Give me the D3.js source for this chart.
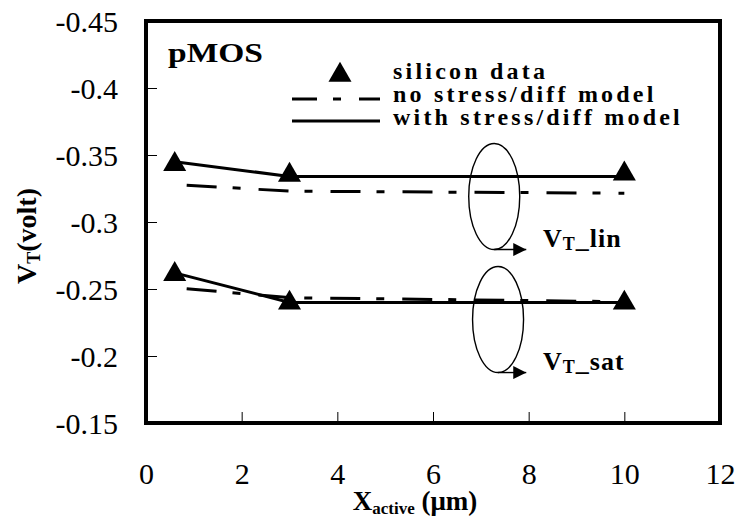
<!DOCTYPE html>
<html>
<head>
<meta charset="utf-8">
<script src="https://cdn.jsdelivr.net/npm/d3@7"></script>
<style>
  body { margin: 0; background: #fff; }
  text { font-family: "Liberation Serif", "Times New Roman", serif; fill: #000; }
</style>
</head>
<body>
<svg id="chart" width="738" height="517"></svg>
<script>
// data
const xActive = [0.6, 3, 10];
const siliconLin = [-0.343, -0.335, -0.336];
const siliconSat = [-0.261, -0.2396, -0.2396];
const noStressLin = [-0.328, -0.323, -0.3215];
const noStressSat = [-0.251, -0.2435, -0.2405];
const withStressLin = [-0.345, -0.334, -0.334];
const withStressSat = [-0.262, -0.240, -0.240];

const xTicks = [0, 2, 4, 6, 8, 10, 12];
const yTicks = [-0.45, -0.4, -0.35, -0.3, -0.25, -0.2, -0.15];

// annotation ellipses (centre in data units) and their labels
const groupNames = ["lin", "sat"];
const ellipseX = [7.28, 7.36];
const ellipseY = [-0.319, -0.2272];
const arrowEndX = [7.95, 7.95];
const labelX = [8.3, 8.3];
const labelY = [-0.2813, -0.1896];

const svg = d3.select("#chart");
const margin = { top: 21, right: 18, bottom: 94, left: 146 };
const width = 738 - margin.left - margin.right;
const height = 517 - margin.top - margin.bottom;

const g = svg.append("g").attr("transform", "translate(" + margin.left + "," + margin.top + ")");

const x = d3.scaleLinear().domain([0, 12]).range([0, width]);
const y = d3.scaleLinear().domain([-0.45, -0.15]).range([0, height]);

// axes
const xAxis = g.append("g")
    .attr("transform", "translate(0," + height + ")")
    .call(d3.axisBottom(x).tickValues(xTicks).tickSize(-11).tickPadding(40).tickFormat(d => String(d)));

const yAxis = g.append("g")
    .call(d3.axisLeft(y).tickValues(yTicks).tickSize(-11).tickPadding(28).tickFormat(d => String(d)));

[xAxis, yAxis].forEach(a => {
    a.select(".domain").remove();
    a.selectAll(".tick line").attr("stroke", "#000").attr("stroke-width", 1);
    a.selectAll(".tick text")
        .style("font-family", "'Liberation Serif', 'Times New Roman', serif")
        .style("font-size", "30px")
        .attr("fill", "#000");
});
yAxis.selectAll(".tick text").attr("dy", "0.34em");

// frame
g.append("rect")
    .attr("x", 0).attr("y", 0)
    .attr("width", width).attr("height", height)
    .attr("fill", "none").attr("stroke", "#000").attr("stroke-width", 4);

const line = d3.line().x(d => x(d[0])).y(d => y(d[1]));
const pairs = vals => xActive.map((v, i) => [v, vals[i]]);

const dashPattern = "30,16,8,18";

[noStressLin, noStressSat].forEach(s => {
    g.append("path")
        .attr("d", line(pairs(s)))
        .attr("fill", "none").attr("stroke", "#000").attr("stroke-width", 3)
        .attr("stroke-dasharray", dashPattern)
        .attr("stroke-dashoffset", 60);
});

[withStressLin, withStressSat].forEach(s => {
    g.append("path")
        .attr("d", line(pairs(s)))
        .attr("fill", "none").attr("stroke", "#000").attr("stroke-width", 3);
});

const tri = d3.symbol(d3.symbolTriangle, 230);
[siliconLin, siliconSat].forEach(s => {
    g.selectAll(null)
        .data(pairs(s))
        .enter()
        .append("path")
        .attr("d", tri)
        .attr("transform", d => "translate(" + x(d[0]) + "," + y(d[1]) + ")")
        .attr("fill", "#000");
});

// arrow marker
svg.append("defs").append("marker")
    .attr("id", "arrow")
    .attr("viewBox", "0 0 12 12")
    .attr("refX", 12).attr("refY", 6)
    .attr("markerWidth", 13).attr("markerHeight", 13)
    .attr("markerUnits", "userSpaceOnUse")
    .attr("orient", "auto")
    .append("path")
    .attr("d", "M0,0 L12,6 L0,12 Z")
    .attr("fill", "#000");

groupNames.forEach((name, i) => {
    const cx = x(ellipseX[i]);
    const cy = y(ellipseY[i]);
    const ry = 53;
    g.append("ellipse")
        .attr("cx", cx).attr("cy", cy)
        .attr("rx", 25.5).attr("ry", ry)
        .attr("fill", "none").attr("stroke", "#000").attr("stroke-width", 1.4);
    g.append("line")
        .attr("x1", cx).attr("y1", cy + ry)
        .attr("x2", x(arrowEndX[i])).attr("y2", cy + ry)
        .attr("stroke", "#000").attr("stroke-width", 1.4)
        .attr("marker-end", "url(#arrow)");
    const t = g.append("text")
        .attr("x", x(labelX[i])).attr("y", y(labelY[i]))
        .style("font-size", "26px").style("font-weight", "bold")
        .style("letter-spacing", "1px");
    t.append("tspan").text("V");
    t.append("tspan").attr("dy", 3).style("font-size", "18px").text("T");
    t.append("tspan").attr("dy", -3).text("_" + name);
});

// pMOS tag
svg.append("text")
    .attr("x", 168).attr("y", 62)
    .attr("textLength", 95).attr("lengthAdjust", "spacingAndGlyphs")
    .style("font-size", "27px").style("font-weight", "bold")
    .text("pMOS");

// legend
const legend = svg.append("g");
legend.append("path")
    .attr("d", tri)
    .attr("transform", "translate(340,75)")
    .attr("fill", "#000");
legend.append("line")
    .attr("x1", 292).attr("x2", 380).attr("y1", 99).attr("y2", 99)
    .attr("stroke", "#000").attr("stroke-width", 3)
    .attr("stroke-dasharray", dashPattern).attr("stroke-dashoffset", 5);
legend.append("line")
    .attr("x1", 292).attr("x2", 380).attr("y1", 121).attr("y2", 121)
    .attr("stroke", "#000").attr("stroke-width", 3);

const legendLabels = ["silicon data", "no stress/diff model", "with stress/diff model"];
const legendBase = [79, 102, 125];
legendLabels.forEach((l, i) => {
    legend.append("text")
        .attr("x", 393).attr("y", legendBase[i])
        .style("font-size", "24px").style("font-weight", "bold")
        .style("letter-spacing", "3.2px")
        .text(l);
});

// axis titles
const xt = svg.append("text")
    .attr("x", 415).attr("y", 510)
    .attr("text-anchor", "middle")
    .style("font-size", "27px").style("font-weight", "bold");
xt.append("tspan").text("X");
xt.append("tspan").attr("dy", 4).style("font-size", "17px").text("active");
xt.append("tspan").attr("dy", -4).text(" (\u03bcm)");

const yt = svg.append("text")
    .attr("transform", "translate(36,236) rotate(-90)")
    .attr("text-anchor", "middle")
    .style("font-size", "28px").style("font-weight", "bold");
yt.append("tspan").text("V");
yt.append("tspan").attr("dy", 4).style("font-size", "18px").text("T");
yt.append("tspan").attr("dy", -4).text("(volt)");
</script>
</body>
</html>
